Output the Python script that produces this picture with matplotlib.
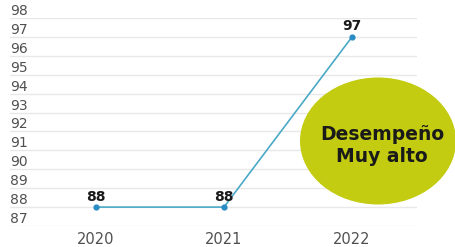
import matplotlib
matplotlib.use("Agg")
import matplotlib.pyplot as plt
from matplotlib.patches import Ellipse

years = [2020, 2021, 2022]
values = [88, 88, 97]
yticks = list(range(87, 99))
badge_text = "Desempeño\nMuy alto"

W, H = 455, 247
fig = plt.figure(figsize=(W / 100, H / 100), dpi=100)
fig.patch.set_facecolor("white")
# axes region in pixels: x 10..417, y 18..226 (from top)
ax = fig.add_axes([10 / W, 1 - 226 / H, (417 - 10) / W, (226 - 18) / H])
ax.set_xlim(2020 - 86 / 128, 2020 + 321 / 128)
ax.set_ylim(87, 98)

for s in ax.spines.values():
    s.set_visible(False)
ax.set_yticks(yticks)
ax.grid(axis="y", color="#e8e8e8", linewidth=1.0)
ax.tick_params(axis="y", length=0, pad=0, labelsize=10, labelcolor="#505050")
for lab in ax.get_yticklabels():
    lab.set_horizontalalignment("left")
    lab.set_verticalalignment("bottom")
    lab.set_fontweight("medium")
ax.set_xticks(years)
ax.set_xticklabels([str(y) for y in years])
ax.tick_params(axis="x", length=0, pad=4, labelsize=10.5, labelcolor="#505050")
for lab in ax.get_xticklabels():
    lab.set_fontweight("medium")

ax.plot(years, values, color="#4aa9c6", linewidth=1.2, zorder=3)
ax.scatter(years, values, s=12, color="#2a8cc4", zorder=4)
for x, v in zip(years, values):
    ax.annotate(str(v), (x, v), xytext=(0, 2.5), textcoords="offset points",
                ha="center", va="bottom", fontsize=10, fontweight="bold",
                color="#1a1a1a", zorder=5)

ell = Ellipse((378 / W, 1 - 141 / H), 156 / W, 127 / H, transform=fig.transFigure,
              facecolor="#c3cc10", edgecolor="none", zorder=6, clip_on=False)
fig.patches.append(ell)
fig.text(382 / W, 1 - 145 / H, badge_text, ha="center", va="center",
         fontsize=13.5, fontweight="bold", color="#1a1a1a", linespacing=1.2, zorder=7)

fig.savefig("out.png", dpi=100)
